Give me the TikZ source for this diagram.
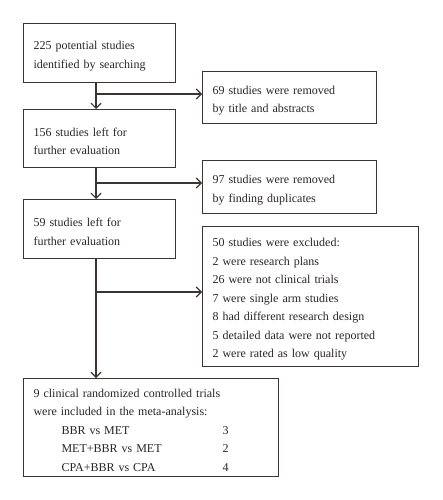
\documentclass[tikz,border=0pt]{standalone}
\usepackage{fontspec}
\setmainfont{Liberation Serif}
\usetikzlibrary{arrows.meta,calc}
\definecolor{linecol}{HTML}{3A3533}
\definecolor{txtcol}{HTML}{2A2523}

\tikzset{
	box/.style={draw=linecol,line width=1.1pt,anchor=north west,align=left,inner xsep=10pt,inner ysep=0pt,text=txtcol,font=\fontsize{12}{18.5}\selectfont,execute at begin node={\rule{0pt}{14pt}}},
	arr/.style={draw=linecol,line width=1.1pt,-{Straight Barb[length=5pt,width=10pt]}}
}

\begin{document}
\begin{tikzpicture}[x=1pt,y=1pt]
		\useasboundingbox (0,0) rectangle (442,-500);
		
		\node[box,text width=132pt,minimum height=59pt] (b225) at (23,-23) {225 potential studies\\identified by searching};
		\node[box,text width=154pt,minimum height=52pt] (b69) at (202,-71) {69 studies were removed\\by title and abstracts};
		\node[box,text width=132pt,minimum height=58pt] (b156) at (23,-109) {156 studies left for\\further evaluation};
		\node[box,text width=154pt,minimum height=53pt] (b97) at (202,-160) {97 studies were removed\\by finding duplicates};
		\node[box,text width=132pt,minimum height=59pt] (b59) at (23,-199) {59 studies left for\\further evaluation};
		\node[box,text width=196pt,minimum height=140pt] (b50) at (202,-226) {50 studies were excluded:\\2 were research plans\\26 were not clinical trials\\7 were single arm studies\\8 had different research design\\5 detailed data were not reported\\2 were rated as low quality};
		\node[box,text width=235pt,minimum height=98pt] (b9) at (23,-378) {9 clinical randomized controlled trials\\were included in the meta-analysis:\\
			\hspace*{28pt}\makebox[161pt][l]{BBR vs MET}3\\
			\hspace*{28pt}\makebox[161pt][l]{MET+BBR vs MET}2\\
			\hspace*{28pt}\makebox[161pt][l]{CPA+BBR vs CPA}4};
		
		% main flow
		\coordinate (j1) at ($(b225.south west)+(73,0)$);
		\coordinate (j2) at ($(b156.south west)+(73,0)$);
		\coordinate (j3) at ($(b59.south west)+(73,0)$);
		\draw[arr] (j1) -- (j1 |- b156.north);
		\draw[arr] (j2) -- (j2 |- b59.north);
		\draw[arr] (j3) -- (j3 |- b9.north);
		
		% side branches
		\coordinate (s1) at (96,-94);
		\coordinate (s2) at (96,-183);
		\coordinate (s3) at (96,-292);
		\draw[arr] (s1) -- (s1 -| b69.west);
		\draw[arr] (s2) -- (s2 -| b97.west);
		\draw[arr] (s3) -- (s3 -| b50.west);
	\end{tikzpicture}
\end{document}
